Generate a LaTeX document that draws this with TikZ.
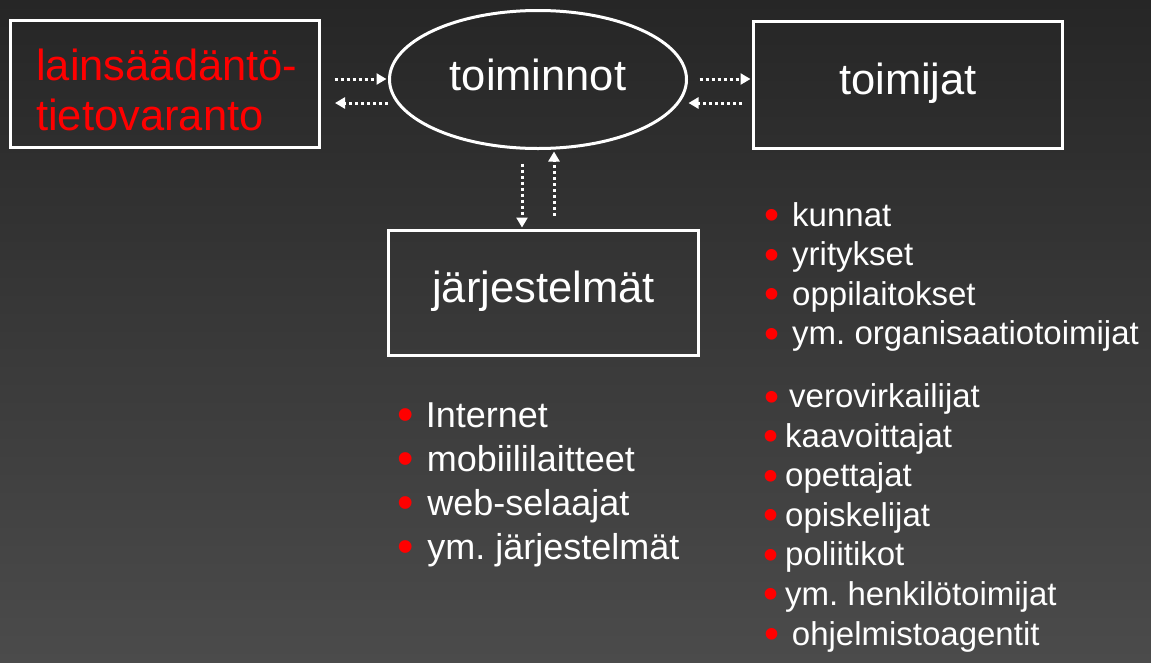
\documentclass[tikz,border=0pt]{standalone}
\usepackage{fontspec}
\setmainfont{Liberation Sans}
\usetikzlibrary{shapes.geometric,arrows.meta,calc}
\definecolor{bgtop}{HTML}{262626}
\definecolor{bgbot}{HTML}{4B4B4B}
\definecolor{bred}{HTML}{FF0000}
\frenchspacing
\newcommand\redbul[2][-1pt]{\makebox[#2][l]{\hspace{#1}\raisebox{-0.11em}{\scalebox{1.3}{\textcolor{bred}{•}}}}}
\begin{document}
\begin{tikzpicture}[x=1pt,y=-1pt,
  boxframe/.style={draw=white, line width=3pt, rectangle, inner sep=0pt,
    minimum width=309pt, minimum height=127pt, text=white,
    font=\fontsize{43.5}{50}\selectfont, text height=31pt, text depth=12pt},
  oval/.style={draw=white, line width=3pt, ellipse, inner sep=0pt,
    minimum width=297pt, minimum height=138pt, text=white,
    font=\fontsize{43.5}{50}\selectfont, text height=31pt, text depth=10pt},
  flow/.style={draw=white, line width=3pt, dash pattern=on 3pt off 3pt,
    -{Triangle[length=10pt,width=11pt]}},
  listtext/.style={anchor=base west, inner sep=0pt, text=white}]
  % background
  \shade[top color=bgtop, bottom color=bgbot] (0,0) rectangle (1151,662);
  \useasboundingbox (0,0) rectangle (1151,662);

  % main nodes
  \node[boxframe] (L) at (165,84) {};
  \node[listtext, text=bred, font=\fontsize{43.5}{50}\selectfont] (Lt) at (36,80)
    {\begin{tabular}[t]{@{}l@{}}lainsäädäntö-\\tietovaranto\end{tabular}};
  \node[oval] (E) at (538,79.5) {toiminnot};
  \node[boxframe] (R) at (908,85) {toimijat};
  \node[boxframe, minimum width=310pt, minimum height=125pt] (M) at (543.5,293) {järjestelmät};

  % connectors
  \draw[flow] ($(L.east)+(13.5,-5)$) -- ($(E.west)+(-1.5,-0.5)$);
  \draw[flow] ($(E.west)+(0,23.5)$) -- ($(L.east)+(14,19)$);
  \draw[flow] ($(E.east)+(11.5,-0.5)$) -- ($(R.west)+(-1.5,-6)$);
  \draw[flow] ($(R.west)+(-10.5,18)$) -- ($(E.east)+(0.5,23.5)$);
  \draw[flow] ($(E.south)+(-16,13.5)$) -- ($(M.north)+(-21.5,-1.5)$);
  \draw[flow] ($(M.north)+(10.5,-13.5)$) -- ($(E.south)+(16,1.5)$);

  % lists
  \node[listtext, font=\fontsize{36}{44}\selectfont] (ML) at (398.7,427)
    {\begin{tabular}[t]{@{}l@{}}
      \redbul{27pt}Internet\\
      \redbul{28pt}mobiililaitteet\\
      \redbul{28.5pt}web-selaajat\\
      \redbul{28.5pt}ym. järjestelmät
    \end{tabular}};
  \node[listtext, font=\fontsize{33}{39.5}\selectfont] (RL) at (765,226)
    {\begin{tabular}[t]{@{}l@{}}
      \redbul{27pt}kunnat\\
      \redbul{27pt}yritykset\\
      \redbul{27pt}oppilaitokset\\
      \redbul{27pt}ym. organisaatiotoimijat\\[23.5pt]
      \redbul{24pt}verovirkailijat\\
      \redbul[-2pt]{20pt}kaavoittajat\\
      \redbul[-2pt]{20pt}opettajat\\
      \redbul[-2pt]{20pt}opiskelijat\\
      \redbul[-2pt]{20pt}poliitikot\\
      \redbul[-2pt]{20pt}ym. henkilötoimijat\\[0.5pt]
      \redbul{26.7pt}ohjelmistoagentit
    \end{tabular}};
\end{tikzpicture}
\end{document}
